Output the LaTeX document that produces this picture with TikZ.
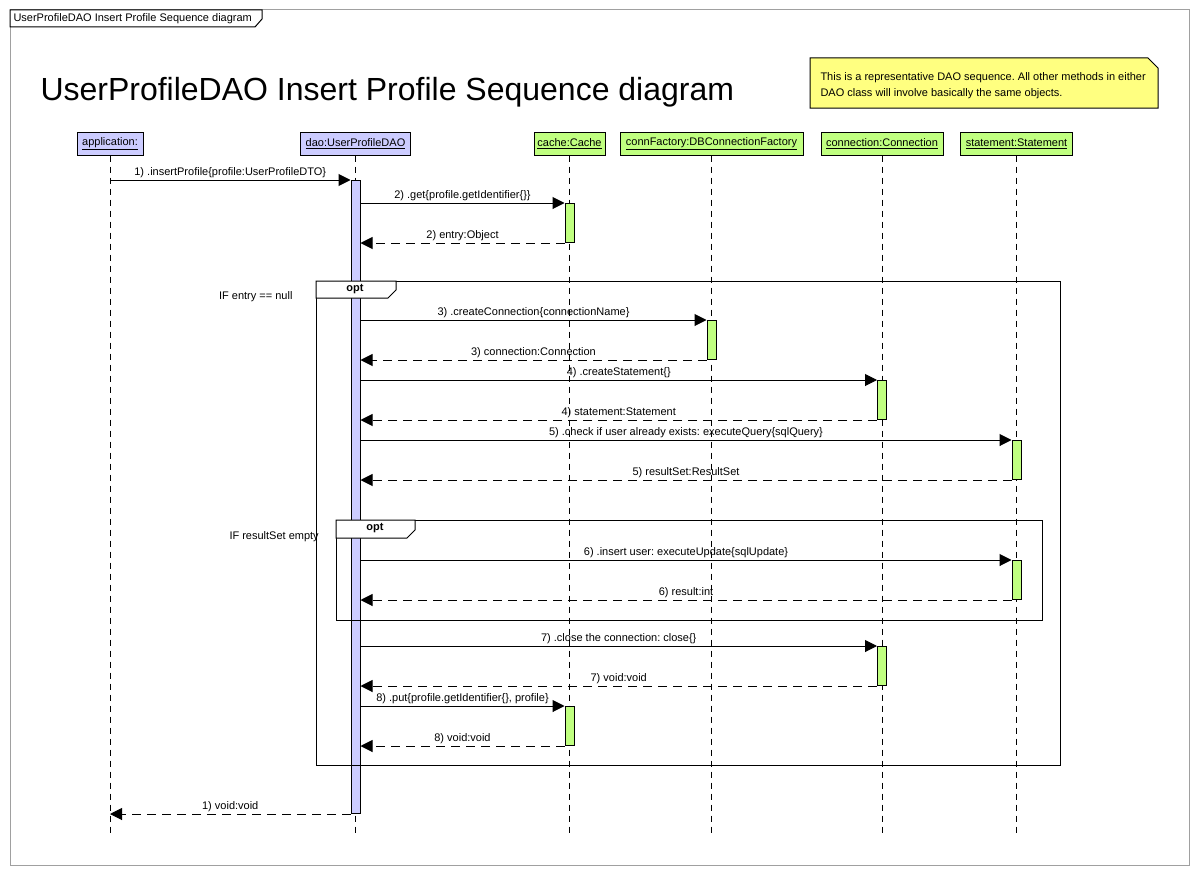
\documentclass[tikz,border=0pt]{standalone}
\usepackage{fontspec}
\setmainfont{Liberation Sans}
\usetikzlibrary{arrows.meta,calc}
\definecolor{LifeClr}{RGB}{204,204,255}
\definecolor{ActClr}{RGB}{192,255,128}
\definecolor{NoteClr}{RGB}{255,255,128}
\definecolor{FrameClr}{RGB}{160,160,160}
\frenchspacing

\begin{document}
\begin{tikzpicture}[x=1pt,y=-1pt,line width=1pt,
  every node/.style={font=\fontsize{11}{13}\selectfont},
  head/.style={draw,minimum height=23pt,inner sep=1pt},
  bar/.style={draw,fill=ActClr,minimum width=9pt,minimum height=39pt,inner sep=0pt,anchor=north},
  life/.style={dash pattern=on 6pt off 5pt},
  call/.style={-{Triangle[length=12pt,width=12pt]}},
  reply/.style={call,dash pattern=on 9pt off 6pt},
  lbl/.style={above,inner sep=2pt}]

\useasboundingbox[fill=white] (0,0) rectangle (1199,875);

% frame and title
\draw[FrameClr] (10,10) rectangle (1189,865);
\draw[fill=white] (10,10) -- (262,10) -- (262,19) -- (255,27) -- (10,27) -- cycle;
\node[anchor=base west,inner sep=0] (tab) at (13,22) {UserProfileDAO Insert Profile Sequence diagram};
\node[anchor=base west,inner sep=0,font=\fontsize{32}{36}\selectfont] (title) at (40,100) {UserProfileDAO Insert Profile Sequence diagram};

\draw[fill=NoteClr] (810,58) -- (1148,58) -- (1158,68) -- (1158,108) -- (810,108) -- cycle;
\node[anchor=base west,inner sep=0] (note1) at (820,81) {This is a representative DAO sequence. All other methods in either};
\node[anchor=base west,inner sep=0] (note2) at (820,96) {DAO class will involve basically the same objects.};

% lifelines
\coordinate (bottom) at (0,835);
\node[head,fill=LifeClr,minimum width=66pt] (app) at (110,143.5) {\underline{application:}};
\node[head,fill=LifeClr,minimum width=110pt] (dao) at (355.5,143.5) {\underline{dao:UserProfileDAO}};
\node[head,fill=ActClr,minimum width=71pt] (cache) at (569.5,143.5) {\underline{cache:Cache}};
\node[head,fill=ActClr,minimum width=183pt] (fact) at (711.5,143.5) {\underline{connFactory:DBConnectionFactory}};
\node[head,fill=ActClr,minimum width=122pt] (conn) at (882,143.5) {\underline{connection:Connection}};
\node[head,fill=ActClr,minimum width=112pt] (stmt) at (1016.5,143.5) {\underline{statement:Statement}};

\foreach \n in {app,dao,cache,fact,conn,stmt}
  \draw[life] (\n.south) -- (\n.south |- bottom);

% activations
\node[bar,fill=LifeClr,minimum height=633pt] (daoA) at (355.5,180) {};
\node[bar] (cacheA) at (569.5,203) {};
\node[bar] (factA) at (711.5,320) {};
\node[bar] (connA) at (882,380) {};
\node[bar] (stmtA) at (1016.5,440) {};
\node[bar] (stmtB) at (1016.5,560) {};
\node[bar] (connB) at (882,646) {};
\node[bar] (cacheB) at (569.5,706) {};

% opt fragments
\draw (316,281) rectangle (1060,765);
\draw[fill=white] (316,281) -- (396,281) -- (396,290) -- (388,298) -- (316,298) -- cycle;
\node[font=\fontsize{11}{13}\bfseries] (opt1) at (355,289.5) {opt};
\node[anchor=east,inner sep=0] (guard1) at (293,297) {IF entry == null};

\draw (336,520) rectangle (1042,620);
\draw[fill=white] (336,520) -- (415,520) -- (415,530) -- (407,538) -- (336,538) -- cycle;
\node[font=\fontsize{11}{13}\bfseries] (opt2) at (375,528.5) {opt};
\node[anchor=west,inner sep=0] (guard2) at (229,537) {IF resultSet empty};

% messages
\draw[call] (app.south |- daoA.north) -- (daoA.north west) node[lbl,midway] {1) .insertProfile\{profile:UserProfileDTO\}};
\draw[call] (daoA.east |- cacheA.north) -- (cacheA.north west) node[lbl,midway] {2) .get\{profile.getIdentifier\{\}\}};
\draw[reply] (cacheA.south west) -- (daoA.east |- cacheA.south) node[lbl,midway] {2) entry:Object};
\draw[call] (daoA.east |- factA.north) -- (factA.north west) node[lbl,midway] {3) .createConnection\{connectionName\}};
\draw[reply] (factA.south west) -- (daoA.east |- factA.south) node[lbl,midway] {3) connection:Connection};
\draw[call] (daoA.east |- connA.north) -- (connA.north west) node[lbl,midway] {4) .createStatement\{\}};
\draw[reply] (connA.south west) -- (daoA.east |- connA.south) node[lbl,midway] {4) statement:Statement};
\draw[call] (daoA.east |- stmtA.north) -- (stmtA.north west) node[lbl,midway] {5) .check if user already exists: executeQuery\{sqlQuery\}};
\draw[reply] (stmtA.south west) -- (daoA.east |- stmtA.south) node[lbl,midway] {5) resultSet:ResultSet};
\draw[call] (daoA.east |- stmtB.north) -- (stmtB.north west) node[lbl,midway] {6) .insert user: executeUpdate\{sqlUpdate\}};
\draw[reply] (stmtB.south west) -- (daoA.east |- stmtB.south) node[lbl,midway] {6) result:int};
\draw[call] (daoA.east |- connB.north) -- (connB.north west) node[lbl,midway] {7) .close the connection: close\{\}};
\draw[reply] (connB.south west) -- (daoA.east |- connB.south) node[lbl,midway] {7) void:void};
\draw[call] (daoA.east |- cacheB.north) -- (cacheB.north west) node[lbl,midway] {8) .put\{profile.getIdentifier\{\}, profile\}};
\draw[reply] (cacheB.south west) -- (daoA.east |- cacheB.south) node[lbl,midway] {8) void:void};
\draw[reply] (daoA.south west) -- (app.south |- daoA.south) node[lbl,midway] {1) void:void};

\end{tikzpicture}
\end{document}
